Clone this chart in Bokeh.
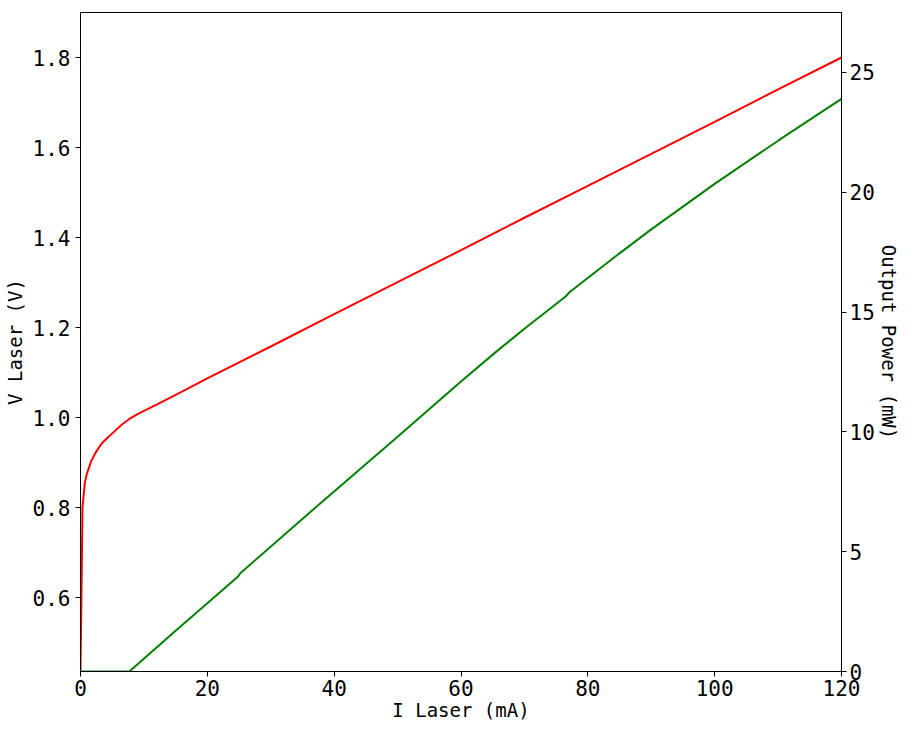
from bokeh.plotting import figure
from bokeh.models import Range1d, LinearAxis, FixedTicker, NumeralTickFormatter
from bokeh.embed import file_html
from bokeh.resources import INLINE

# Red: laser voltage vs current
i_v = [0, 0.15, 0.31, 0.68, 1.0, 1.7, 2.5, 3.3, 4.3, 5.4, 6.5, 7.7, 9, 10, 12, 16, 20, 30, 40, 50, 60, 70, 80, 90, 100, 110, 120]
v_laser = [0.44, 0.60, 0.80, 0.855, 0.875, 0.904, 0.925, 0.942, 0.956, 0.970, 0.984, 0.997, 1.008, 1.015, 1.029, 1.058, 1.087, 1.158, 1.230, 1.301, 1.372, 1.444, 1.515, 1.586, 1.657, 1.729, 1.800]

# Green: output power vs current
i_p = [0, 7.7, 15, 24.8, 25.2, 38.3, 50, 60, 65.8, 70, 76.5, 77.2, 85, 90, 95, 100, 110, 120]
p_out = [0, 0, 1.7, 3.95, 4.1, 7.13, 9.8, 12.1, 13.4, 14.3, 15.65, 15.85, 17.45, 18.45, 19.4, 20.35, 22.15, 23.9]

x_ticks = [0, 20, 40, 60, 80, 100, 120]
v_ticks = [0.6, 0.8, 1.0, 1.2, 1.4, 1.6, 1.8]
p_ticks = [0, 5, 10, 15, 20, 25]

FONT = "DejaVu Sans Mono"

p = figure(width=903, height=723, output_backend="svg", toolbar_location=None,
           x_range=Range1d(0, 120), y_range=Range1d(0.436, 1.900),
           min_border_left=79, min_border_right=62, min_border_top=12, min_border_bottom=52)
p.extra_y_ranges = {"pw": Range1d(0, 27.5)}

p.outline_line_color = "black"
p.outline_line_width = 1
p.xgrid.visible = False
p.ygrid.visible = False

p.line(i_v, v_laser, line_color="#ff0000", line_width=2)
p.line(i_p, p_out, line_color="#008000", line_width=2, y_range_name="pw")

right = LinearAxis(y_range_name="pw", axis_label="Output Power (mW)")
p.add_layout(right, "right")

p.xaxis.ticker = FixedTicker(ticks=x_ticks)
p.yaxis[0].ticker = FixedTicker(ticks=v_ticks)
p.yaxis[0].formatter = NumeralTickFormatter(format="0.0")
right.ticker = FixedTicker(ticks=p_ticks)
p.xaxis.axis_label = "I Laser (mA)"
p.yaxis[0].axis_label = "V Laser (V)"

for ax in p.xaxis + p.yaxis:
    ax.major_label_text_font = FONT
    ax.major_label_text_font_size = "21px"
    ax.major_label_text_color = "black"
    ax.axis_label_text_font = FONT
    ax.axis_label_text_font_size = "19px"
    ax.axis_label_text_font_style = "normal"
    ax.axis_label_text_color = "black"
    ax.minor_tick_line_color = None
    ax.major_tick_out = 5
    ax.major_tick_in = 0
    ax.major_tick_line_color = "black"
    ax.axis_line_color = "black"
    ax.axis_label_standoff = 0
    ax.major_label_standoff = 3

p.yaxis[0].axis_label_standoff = 4
p.yaxis[0].major_label_standoff = 5

open("out.html", "w").write(file_html(p, INLINE))
